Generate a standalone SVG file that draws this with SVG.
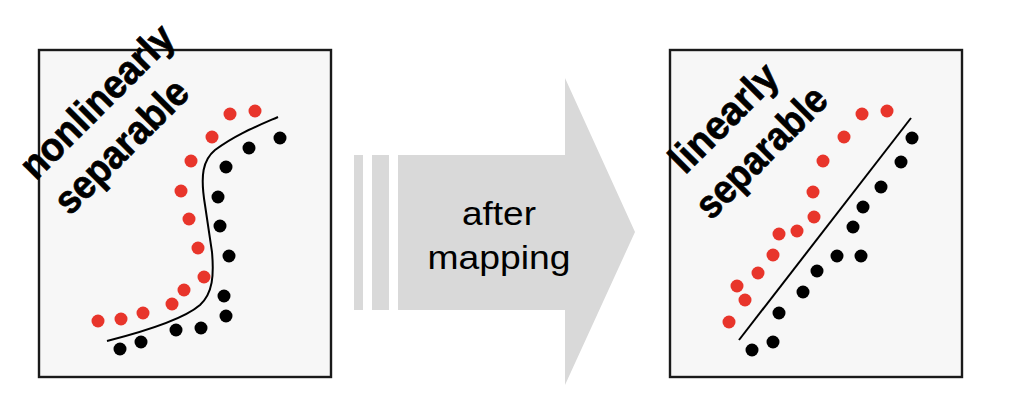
<svg xmlns="http://www.w3.org/2000/svg" width="1010" height="414" viewBox="0 0 1010 414">
<style>
.box{fill:#f7f7f7;stroke:#1a1a1a;stroke-width:2.4}
.r{fill:#e8352b}
.k{fill:#000}
.sep{fill:none;stroke:#000;stroke-width:2}
.lbl{font-family:"Liberation Sans",Arial,sans-serif;font-weight:bold;font-size:40px;fill:#000;stroke:#000;stroke-width:0.7;text-anchor:middle}
.arr{fill:#d9d9d9}
.at{font-family:"Liberation Sans",Arial,sans-serif;font-size:34px;fill:#000;text-anchor:middle}
</style>
<g id="left-panel">
<rect class="box" x="39" y="50" width="292" height="327"/>
<g id="left-red">
<circle class="r" cx="98" cy="321" r="6.5"/>
<circle class="r" cx="121" cy="319" r="6.5"/>
<circle class="r" cx="143" cy="313" r="6.5"/>
<circle class="r" cx="172" cy="304" r="6.5"/>
<circle class="r" cx="184" cy="290" r="6.5"/>
<circle class="r" cx="204" cy="277" r="6.5"/>
<circle class="r" cx="198" cy="248" r="6.5"/>
<circle class="r" cx="189" cy="219" r="6.5"/>
<circle class="r" cx="181" cy="191" r="6.5"/>
<circle class="r" cx="191" cy="161" r="6.5"/>
<circle class="r" cx="212" cy="137" r="6.5"/>
<circle class="r" cx="230" cy="114" r="6.5"/>
<circle class="r" cx="255" cy="111" r="6.5"/>
</g>
<g id="left-black">
<circle class="k" cx="120" cy="349" r="6.5"/>
<circle class="k" cx="141" cy="342" r="6.5"/>
<circle class="k" cx="176" cy="330" r="6.5"/>
<circle class="k" cx="201" cy="328" r="6.5"/>
<circle class="k" cx="226" cy="316" r="6.5"/>
<circle class="k" cx="224" cy="296" r="6.5"/>
<circle class="k" cx="229" cy="256" r="6.5"/>
<circle class="k" cx="220" cy="226" r="6.5"/>
<circle class="k" cx="218" cy="197" r="6.5"/>
<circle class="k" cx="226" cy="167" r="6.5"/>
<circle class="k" cx="249" cy="148" r="6.5"/>
<circle class="k" cx="280" cy="138" r="6.5"/>
</g>
<path class="sep" d="M107,341 C150,330 185,318 200,305 C213,293 214,275 212,252 L205,205 C200,175 203,160 215,150 C235,135 255,127 278,117"/>
<text class="lbl" transform="translate(106.4,110.9) rotate(-45)" textLength="200" lengthAdjust="spacingAndGlyphs">nonlinearly</text>
<text class="lbl" transform="translate(130.8,155.8) rotate(-45)" textLength="172" lengthAdjust="spacingAndGlyphs">separable</text>
</g>
<g id="mapping-arrow">
<rect class="arr" x="354" y="155" width="9" height="155"/>
<rect class="arr" x="372" y="155" width="17" height="155"/>
<polygon class="arr" points="398,155 565,155 565,78 635,232 565,385 565,310 398,310"/>
<text class="at" x="499" y="225" textLength="74" lengthAdjust="spacingAndGlyphs">after</text>
<text class="at" x="499" y="269" textLength="143" lengthAdjust="spacingAndGlyphs">mapping</text>
</g>
<g id="right-panel">
<rect class="box" x="670" y="50" width="292" height="327"/>
<g id="right-red">
<circle class="r" cx="729" cy="322" r="6.5"/>
<circle class="r" cx="745" cy="300" r="6.5"/>
<circle class="r" cx="737" cy="286" r="6.5"/>
<circle class="r" cx="758" cy="273" r="6.5"/>
<circle class="r" cx="773" cy="255" r="6.5"/>
<circle class="r" cx="779" cy="234" r="6.5"/>
<circle class="r" cx="797" cy="231" r="6.5"/>
<circle class="r" cx="814" cy="217" r="6.5"/>
<circle class="r" cx="813" cy="192" r="6.5"/>
<circle class="r" cx="823" cy="161" r="6.5"/>
<circle class="r" cx="844" cy="137" r="6.5"/>
<circle class="r" cx="862" cy="114" r="6.5"/>
<circle class="r" cx="887" cy="111" r="6.5"/>
</g>
<g id="right-black">
<circle class="k" cx="752" cy="350" r="6.5"/>
<circle class="k" cx="773" cy="342" r="6.5"/>
<circle class="k" cx="779" cy="313" r="6.5"/>
<circle class="k" cx="803" cy="292" r="6.5"/>
<circle class="k" cx="817" cy="271" r="6.5"/>
<circle class="k" cx="837" cy="256" r="6.5"/>
<circle class="k" cx="861" cy="256" r="6.5"/>
<circle class="k" cx="853" cy="227" r="6.5"/>
<circle class="k" cx="863" cy="207" r="6.5"/>
<circle class="k" cx="881" cy="187" r="6.5"/>
<circle class="k" cx="901" cy="162" r="6.5"/>
<circle class="k" cx="912" cy="138" r="6.5"/>
</g>
<line class="sep" x1="739" y1="340" x2="911" y2="118"/>
<text class="lbl" transform="translate(733.2,127.4) rotate(-45)" textLength="136" lengthAdjust="spacingAndGlyphs">linearly</text>
<text class="lbl" transform="translate(770.7,161.6) rotate(-45)" textLength="168" lengthAdjust="spacingAndGlyphs">separable</text>
</g>
</svg>
